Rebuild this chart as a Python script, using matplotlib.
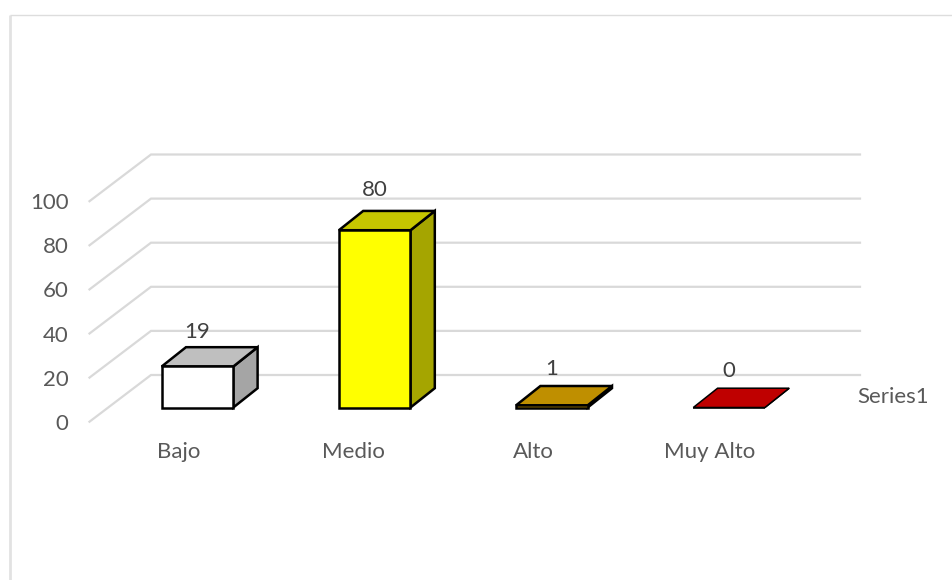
import matplotlib
matplotlib.use("Agg")
import matplotlib.pyplot as plt
from matplotlib.patches import Polygon

categories = ["Bajo", "Medio", "Alto", "Muy Alto"]
values = [18.6, 80.4, 1.0, 0.0]
series_name = "Series1"
yticks = [0, 20, 40, 60, 80, 100]
front_colors = ["#FFFFFF", "#FFFF00", "#FFC000", "#FF0000"]
top_colors = ["#BFBFBF", "#C6C600", "#BF8F00", "#BF0000"]
side_colors = ["#A5A5A5", "#A5A500", "#9A7300", "#990000"]
value_label_pads = [5, 11, 7, 7]
category_label_shifts = [-18.5, -21.5, -19, -19]

W, H = 952, 580
PX_PER_CAT, PX_PER_VAL = 177.2, 2.205
X0, Y0 = 197.5, 407.5
FONT = 16
plt.rcParams["font.family"] = ["Lato", "DejaVu Sans"]

fig = plt.figure(figsize=(W / 100, H / 100), dpi=100, facecolor="white")
ax = fig.add_axes([0, 0, 1, 1])
ax.set_xlim(-X0 / PX_PER_CAT, (W - X0) / PX_PER_CAT)
ax.set_ylim((Y0 - H) / PX_PER_VAL, Y0 / PX_PER_VAL)
ax.axis("off")

dx = lambda px: px / PX_PER_CAT
dy = lambda px: px / PX_PER_VAL

# chart frame: only the left and top edges are visible
x_l, x_r = ax.get_xlim()
y_b, y_t = ax.get_ylim()
ax.plot([x_l + dx(9.5), x_l + dx(9.5)], [y_b, y_t - dy(14.5)], color="#E2E2E2", lw=2.0, zorder=0, solid_capstyle="butt")
ax.plot([x_l + dx(9.5), x_r], [y_t - dy(14.5), y_t - dy(14.5)], color="#DDDDDD", lw=1.0, zorder=0, solid_capstyle="butt")

# walls
GRID = "#D9D9D9"
wall_front_x = dx(89.5 - X0)
wall_back_x = dx(151 - X0)
wall_right_x = dx(860 - X0)
front_off, back_off = dy(-14.2), dy(32.5)
for t in yticks:
    ax.plot([wall_front_x, wall_back_x, wall_right_x],
            [t + front_off, t + back_off, t + back_off],
            color=GRID, lw=1.6, zorder=1, solid_joinstyle="miter")
    ax.text(dx(68.5 - X0), t + front_off + dy(-2), str(t), ha="right", va="center",
            fontsize=FONT, color="#595959")

half = dx(35.8)
ddx, ddy = dx(24.3), dy(19.3)
for i, (cat, v) in enumerate(zip(categories, values)):
    l, r = i - half, i + half
    kw = dict(edgecolor="black", lw=1.8 if v > 0 else 1.1, joinstyle="miter", zorder=3)
    ax.add_patch(Polygon([(r, 0), (r + ddx, ddy), (r + ddx, v + ddy), (r, v)], facecolor=side_colors[i], **kw))
    ax.add_patch(Polygon([(l, v), (r, v), (r + ddx, v + ddy), (l + ddx, v + ddy)], facecolor=top_colors[i], **kw))
    ax.add_patch(Polygon([(l, 0), (r, 0), (r, v), (l, v)], facecolor=front_colors[i], **kw))
    ax.text(i, v + ddy + dy(value_label_pads[i]), f"{v:.0f}", ha="center", va="bottom",
            fontsize=FONT, color="#404040", zorder=4)
    ax.text(i + dx(category_label_shifts[i]), dy(-44.5), cat, ha="center", va="center",
            fontsize=FONT, color="#595959")

ax.text(dx(857 - X0), dy(10.5), series_name, ha="left", va="center",
        fontsize=FONT, color="#595959")

fig.savefig("out.png", dpi=100, facecolor="white")
